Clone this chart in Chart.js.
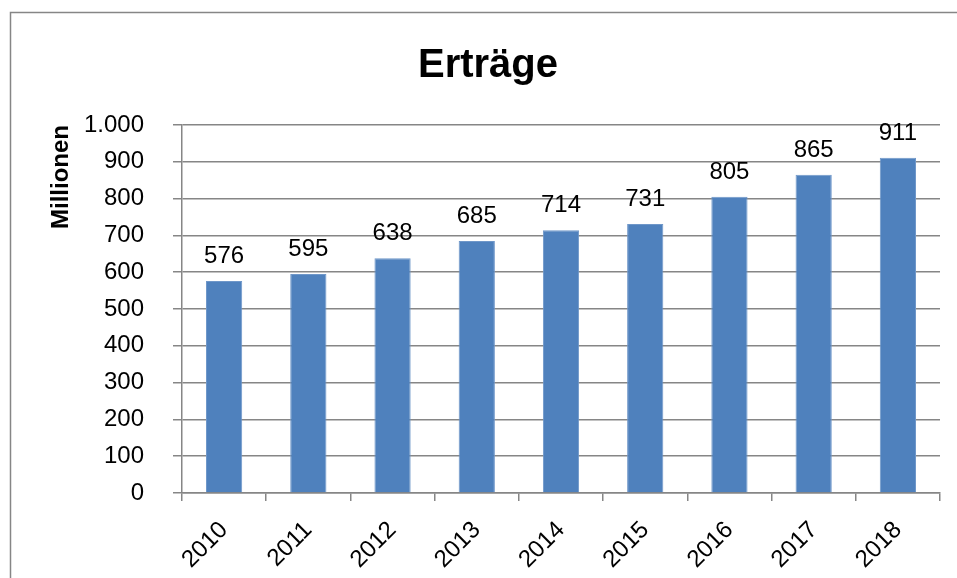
<!DOCTYPE html>
<html>
<head>
<meta charset="utf-8">
<script src="https://cdn.jsdelivr.net/npm/chart.js@4/dist/chart.umd.min.js"></script>
<style>
  html, body { margin: 0; padding: 0; background: #ffffff; }
  #wrap { width: 957px; height: 578px; position: relative; }
</style>
</head>
<body>
<div id="wrap"><canvas id="c"></canvas></div>
<script>
const chartTitle = "Erträge";
const yAxisTitle = "Millionen";
const categories = ["2010", "2011", "2012", "2013", "2014", "2015", "2016", "2017", "2018"];
const values = [576, 595, 638, 685, 714, 731, 805, 865, 911];
const yMin = 0, yMax = 1000, yStep = 100;

const FONT = "'Liberation Sans', Arial, sans-serif";
const GRID = "#868686";

function fmtDE(v) {
  return String(v).replace(/\B(?=(\d{3})+(?!\d))/g, ".");
}

const framePlugin = {
  id: "frame",
  beforeDraw(chart) {
    const ctx = chart.ctx;
    ctx.save();
    ctx.fillStyle = "#ffffff";
    ctx.fillRect(0, 0, chart.width, chart.height);
    ctx.strokeStyle = GRID;
    ctx.lineWidth = 1.5;
    ctx.strokeRect(10.5, 12.5, chart.width + 50, chart.height + 50);
    ctx.restore();
  }
};

const valueLabels = {
  id: "valueLabels",
  afterDatasetsDraw(chart) {
    const ctx = chart.ctx;
    const meta = chart.getDatasetMeta(0);
    ctx.save();
    ctx.font = "24px " + FONT;
    ctx.fillStyle = "#000000";
    ctx.textAlign = "center";
    ctx.textBaseline = "alphabetic";
    meta.data.forEach((bar, i) => {
      ctx.fillText(fmtDE(values[i]), bar.x, bar.y - 18);
    });
    ctx.restore();
  }
};

new Chart(document.getElementById("c"), {
  type: "bar",
  data: {
    labels: categories,
    datasets: [{
      data: values,
      backgroundColor: "#4F81BD",
      borderColor: "#6F97C9",
      borderWidth: 1,
      categoryPercentage: 1.0,
      barPercentage: 0.43
    }]
  },
  options: {
    responsive: true,
    maintainAspectRatio: false,
    animation: false,
    layout: { padding: { left: 36, right: 17, top: 0, bottom: 0 } },
    plugins: {
      legend: { display: false },
      tooltip: { enabled: false },
      title: {
        display: true,
        text: chartTitle,
        color: "#000000",
        font: { family: FONT, size: 40, weight: "bold", lineHeight: 1.2 },
        padding: { top: 42, bottom: 35 }
      }
    },
    scales: {
      x: {
        grid: {
          display: true,
          drawOnChartArea: false,
          drawTicks: true,
          tickLength: 8,
          color: GRID,
          lineWidth: 1.5,
          offset: true
        },
        border: { display: true, color: GRID, width: 1.5 },
        ticks: {
          color: "#000000",
          font: { family: FONT, size: 24 },
          minRotation: 45,
          maxRotation: 45,
          autoSkip: false,
          padding: 15
        },
        afterFit(scale) { scale.height = 85; }
      },
      y: {
        min: yMin,
        max: yMax,
        grid: {
          color: GRID,
          lineWidth: 1.5,
          drawTicks: true,
          tickLength: 9
        },
        border: { display: true, color: GRID, width: 1.5 },
        ticks: {
          stepSize: yStep,
          color: "#000000",
          font: { family: FONT, size: 24 },
          padding: 29,
          callback: (v) => fmtDE(v)
        },
        title: {
          display: true,
          text: yAxisTitle,
          align: "end",
          color: "#000000",
          font: { family: FONT, size: 24, weight: "bold", lineHeight: 1.2 },
          padding: { top: 11, bottom: 0 }
        },
        afterFit(scale) { scale.width = 146; }
      }
    }
  },
  plugins: [framePlugin, valueLabels]
});
</script>
</body>
</html>
